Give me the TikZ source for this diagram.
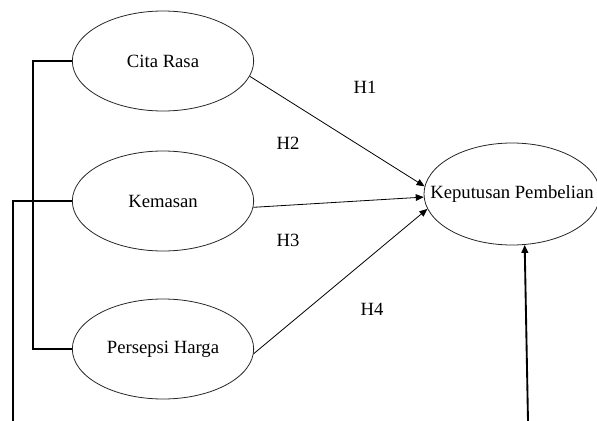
\documentclass[tikz,border=0pt]{standalone}
\usepackage{fontspec}
\setmainfont{Liberation Serif}
\usetikzlibrary{arrows.meta,shapes.geometric,positioning}
\tikzset{
    >={Triangle[length=6pt,width=5pt]},
    konstruk/.style={
      ellipse,
      draw=black!85, semithick,
      minimum width=136pt,
      minimum height=75pt,
      inner sep=0pt,
      font=\fontsize{14}{16}\selectfont},
    hipotesis/.style={font=\fontsize{14}{16}\selectfont},
    line/.style={draw, semithick, ->},
    garis/.style={draw, line width=1.4pt},
}

\begin{document}
\begin{tikzpicture}
      [x=0.75pt, y=-0.75pt]
      \useasboundingbox (0,0) rectangle (597,421);
      \node[konstruk] (citaRasa)      at (163,61)  {Cita Rasa};
      \node[konstruk] (kemasan)       at (163,201) {Kemasan};
      \node[konstruk] (persepsiHarga) at (163,349) {Persepsi Harga};
      \node[konstruk, minimum width=132pt, minimum height=76.5pt] (keputusan) at (512,194) {\makebox[0pt]{Keputusan Pembelian}};
      % hipotesis
      \node[hipotesis] (h1) at (365,87)  {H1};
      \node[hipotesis] (h2) at (288,143) {H2};
      \node[hipotesis] (h3) at (288,240) {H3};
      \node[hipotesis] (h4) at (372,309) {H4};
      \draw[line] (citaRasa.-10)     -- (keputusan.175);
      \draw[line] (kemasan.-4)       -- (keputusan.182);
      \draw[line] (persepsiHarga.-3) -- (keputusan.190);
      % garis kiri dan bawah
      \coordinate (kiriBawah)  at (13,421);
      \coordinate (kananBawah) at (528,421);
      \draw[garis] (citaRasa.west) -- ++(-39,0) |- (persepsiHarga.west);
      \draw[garis] (kemasan.west) -| (kiriBawah);
      \draw[garis, ->] (kananBawah) -- (keputusan.-76);
\end{tikzpicture}
\end{document}
